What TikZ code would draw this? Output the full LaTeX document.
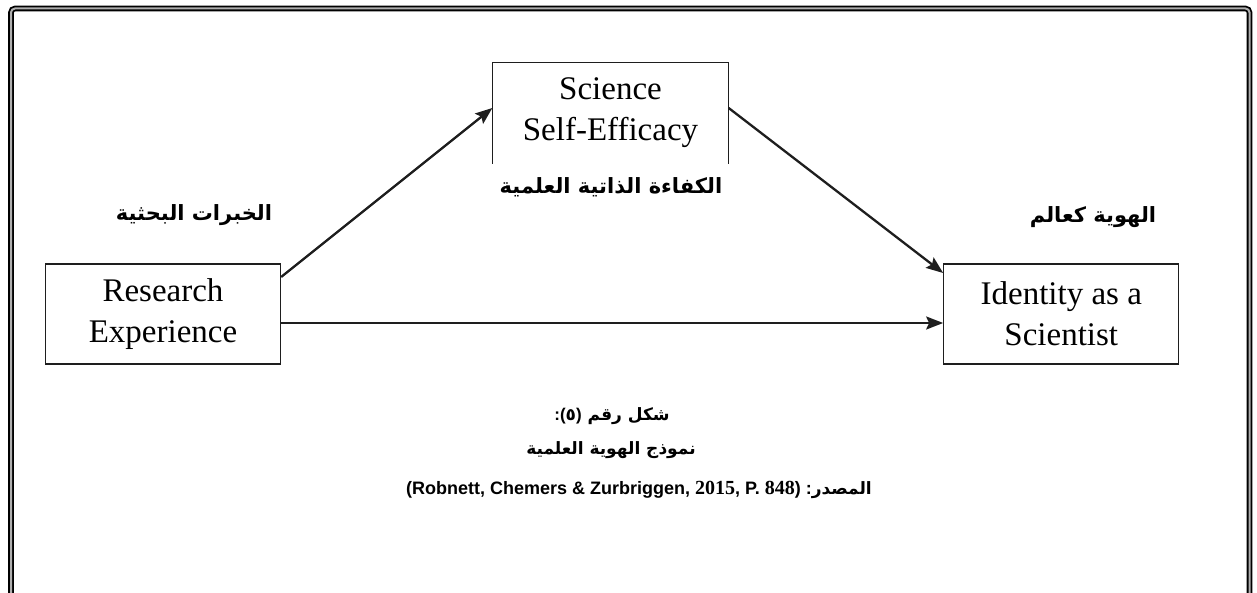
\documentclass[tikz,border=0pt]{standalone}
\usepackage{fontspec}
\setmainfont{Liberation Serif}
\newfontfamily\arabicfont[Script=Arabic]{DejaVu Sans}
\newfontfamily\headfont{Liberation Sans}
\TeXXeTstate=1
\usetikzlibrary{positioning,arrows.meta}
\definecolor{FrameGray}{RGB}{175,175,175}
\definecolor{LineDark}{RGB}{30,30,30}
\tikzset{
  flow/.style={-{Stealth[length=17pt,width=13pt,inset=3pt]},line width=2.3pt,draw=LineDark},
  varbox/.style={draw=LineDark,line width=1.3pt,minimum width=235pt,minimum height=100pt,
    align=center,font=\fontsize{33}{41}\selectfont},
  openbox/.style={varbox,draw=none},
  arlabel/.style={font=\arabicfont\bfseries\fontsize{21}{25}\selectfont},
  arcaption/.style={font=\arabicfont\bfseries\fontsize{17}{21}\selectfont},
  captext/.style={font=\headfont\bfseries\fontsize{18}{22}\selectfont}
}

\begin{document}
\begin{tikzpicture}[x=1pt,y=-1pt]
  \useasboundingbox (0,0) rectangle (1257,593);
  \fill[white] (0,0) rectangle (1257,593);
  \draw[line width=1.8pt,double=FrameGray,double distance=2pt,rounded corners=4pt]
    (11,593) -- (11,8.5) -- (1249.5,8.5) -- (1249.5,593);
  \node[varbox] (res) at (163,314) {Research\\Experience};
  \node[varbox,right=662pt of res] (idt) {Identity as a\\Scientist};
  \node[openbox] (sse) at (610.5,113) {Science\\Self-Efficacy};
  \draw[draw=LineDark,line width=1.3pt] (sse.south west) -- (sse.north west) -- (sse.north east) -- (sse.south east);
  \node[arlabel] (lres) at (194,215) {\beginR الخبرات البحثية\endR};
  \node[arlabel] (lsse) at (611,187) {\beginR الكفاءة الذاتية العلمية\endR};
  \node[arlabel] (lidt) at (1093,217) {\beginR الهوية كعالم\endR};
  \draw[flow] ([yshift=37pt]res.east) -- ([yshift=5pt]sse.west);
  \draw[flow] ([yshift=5pt]sse.east) -- ([yshift=41pt]idt.west);
  \draw[flow] ([yshift=-9pt]res.east) -- ([yshift=-9pt]idt.west);
  \node[arcaption] (cap) at (612,416) {{\headfont :(}\hbox{٥}{\headfont )} \beginR شكل رقم\endR};
  \node[arcaption] (title) at (611,450) {\beginR نموذج الهوية العلمية\endR};
  \node[captext] (src) at (639,490) {(Robnett, Chemers \& Zurbriggen, {\rmfamily\fontsize{20}{22}\selectfont 2015}, P. {\rmfamily\fontsize{20}{22}\selectfont 848}) :{\arabicfont\fontsize{17}{21}\selectfont\beginR المصدر\endR}};
\end{tikzpicture}
\end{document}
